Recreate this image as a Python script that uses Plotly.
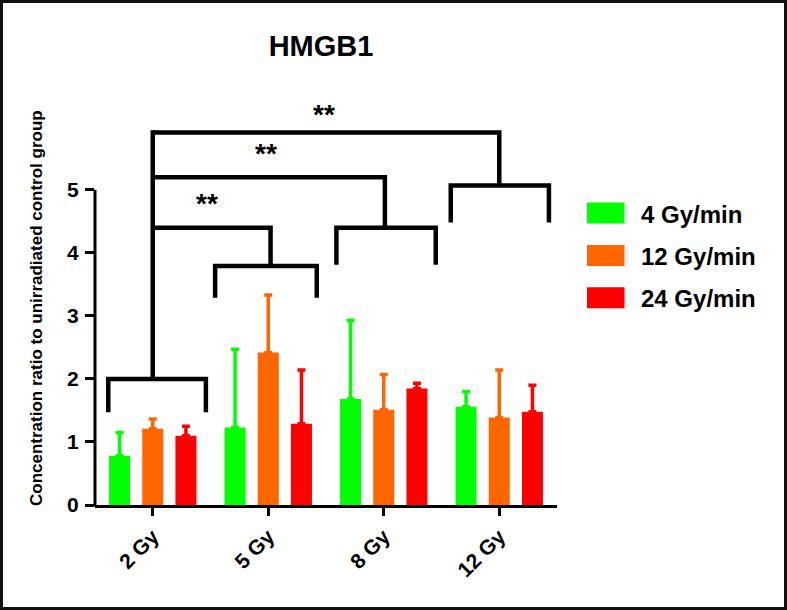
import plotly.graph_objects as go

# ---------------- data ----------------
doses = ["2 Gy", "5 Gy", "8 Gy", "12 Gy"]
series_names = ["4 Gy/min", "12 Gy/min", "24 Gy/min"]
series_colors = ["#00FF00", "#FF6600", "#FF0000"]
mean_4 = [0.78, 1.23, 1.68, 1.56]
mean_12 = [1.21, 2.42, 1.51, 1.39]
mean_24 = [1.10, 1.29, 1.85, 1.48]
err_4 = [0.37, 1.24, 1.25, 0.24]
err_12 = [0.155, 0.91, 0.56, 0.75]
err_24 = [0.15, 0.85, 0.08, 0.42]
y_ticks = [0, 1, 2, 3, 4, 5]

# significance brackets per dose group: (x0, x1, top, leg)
group_brackets = [(-0.385, 0.46, 2.0, 1.47),
                  (0.54, 1.42, 3.79, 3.29),
                  (1.59, 2.45, 4.40, 3.81),
                  (2.58, 3.43, 5.07, 4.48)]
# comparisons from 2 Gy: (target x, bar height)
comparisons = [(1.02, 4.40), (2.01, 5.20), (3.0, 5.91)]
star_labels = [("**", 0.47, 4.79), ("**", 0.98, 5.57), ("**", 1.48, 6.19)]

FONT = "Liberation Sans, Arial, sans-serif"
W, H = 787, 610
ML, MR, MT, MB = 95, 230, 89, 105
PW, PH = W - ML - MR, H - MT - MB
Y_RANGE = [0, 6.6]


def px_x(p):
    return (p - ML) / PW


def px_y(p):
    return (H - MB - p) / PH


x_idx = list(range(len(doses)))
means = [mean_4, mean_12, mean_24]
errs = [err_4, err_12, err_24]

fig = go.Figure()
for name, col, m, e in zip(series_names, series_colors, means, errs):
    fig.add_trace(go.Bar(
        x=x_idx, y=m, name=name, marker=dict(color=col, line=dict(width=0)),
        error_y=dict(type="data", array=e, symmetric=False, arrayminus=[0] * len(e),
                     color=col, thickness=3.5, width=4),
        showlegend=False, hoverinfo="skip"))

shapes = []
LW = 4.5
for x0, x1, top, leg in group_brackets:
    shapes.append(dict(type="path", xref="x", yref="y",
                       path=f"M {x0},{leg} L {x0},{top} L {x1},{top} L {x1},{leg}",
                       line=dict(color="black", width=LW)))
# main stem from 2 Gy bracket
stem_x = 0.0
shapes.append(dict(type="line", xref="x", yref="y", x0=stem_x, x1=stem_x,
                   y0=group_brackets[0][2], y1=max(c[1] for c in comparisons) + 0.035,
                   line=dict(color="black", width=LW)))
for (tx, hy), gb in zip(comparisons, group_brackets[1:]):
    shapes.append(dict(type="path", xref="x", yref="y",
                       path=f"M {stem_x},{hy} L {tx},{hy} L {tx},{gb[2]}",
                       line=dict(color="black", width=LW)))

# y axis line only up to 5
shapes.append(dict(type="line", xref="paper", yref="paper", x0=0, x1=0,
                   y0=px_y(H - MB + 1.5), y1=y_ticks[-1] / Y_RANGE[1],
                   line=dict(color="black", width=3)))

# custom legend
annotations = []
for i, (name, col) in enumerate(zip(series_names, series_colors)):
    cy = 213 + i * 42.4
    shapes.append(dict(type="rect", xref="paper", yref="paper",
                       x0=px_x(587), x1=px_x(624.5), y0=px_y(cy + 10.5), y1=px_y(cy - 10.5),
                       fillcolor=col, line=dict(width=0)))
    annotations.append(dict(xref="paper", yref="paper", x=px_x(639), y=px_y(cy + 1),
                            xanchor="left", yanchor="middle", showarrow=False,
                            text=name, font=dict(family=FONT, size=24, color="black", weight="bold")))

# outer border
shapes.append(dict(type="rect", xref="paper", yref="paper",
                   x0=px_x(1.5), x1=px_x(W - 1.5), y0=px_y(H - 1.5), y1=px_y(1.5),
                   line=dict(color="#111111", width=3), fillcolor="rgba(0,0,0,0)"))

for txt, sx, sy in star_labels:
    annotations.append(dict(xref="x", yref="y", x=sx, y=sy, text=txt, showarrow=False,
                            xanchor="center", yanchor="middle",
                            font=dict(family=FONT, size=28, color="black", weight="bold")))

annotations.append(dict(xref="paper", yref="paper", x=px_x(36), y=px_y(308),
                        text="Concentration ratio to unirradiated control group",
                        textangle=-90, showarrow=False, xanchor="center", yanchor="middle",
                        font=dict(family=FONT, size=17, color="black", weight="bold")))

fig.update_layout(
    width=W, height=H, autosize=False,
    margin=dict(l=ML, r=MR, t=MT, b=MB, pad=0),
    paper_bgcolor="white", plot_bgcolor="white",
    barmode="group", bargap=0.138, bargroupgap=0.366,
    hovermode=False,
    title=dict(text="HMGB1", x=321 / W, xref="container", xanchor="center",
               y=1 - 46 / H, yref="container", yanchor="middle",
               font=dict(family=FONT, size=29, color="black", weight="bold")),
    xaxis=dict(range=[-0.5, 3.5], tickmode="array", tickvals=x_idx, ticktext=doses,
               tickangle=-45, showline=True, linecolor="black", linewidth=3,
               ticks="outside", ticklen=8, tickwidth=3, tickcolor="black",
               showgrid=False, zeroline=False,
               tickfont=dict(family=FONT, size=21, color="black", weight="bold")),
    yaxis=dict(range=Y_RANGE, tickmode="array", tickvals=y_ticks,
               showline=False, ticks="outside", ticklen=9, tickwidth=3, tickcolor="black",
               showgrid=False, zeroline=False, ticklabelstandoff=2,
               tickfont=dict(family=FONT, size=21, color="black", weight="bold")),
    shapes=shapes, annotations=annotations,
)

fig.write_html("out.html", config={"displayModeBar": False},
               post_script="document.body.style.margin='0';document.body.style.padding='0';")
